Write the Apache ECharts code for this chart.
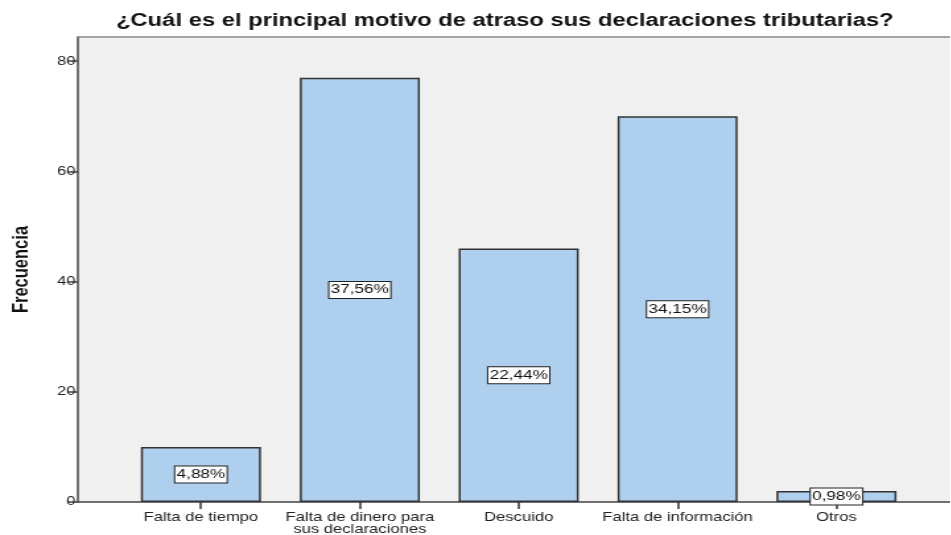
<!DOCTYPE html>
<html lang="es">
<head>
<meta charset="UTF-8">
<title>Motivo de atraso</title>
<script src="https://cdn.jsdelivr.net/npm/echarts@6/dist/echarts.min.js"></script>
<style>
  html, body { margin: 0; padding: 0; background: #fff; overflow: hidden; }
  /* el original está estirado a lo ancho: se dibuja estrecho y se estira */
  #chart { height: 535px; transform-origin: 0 0; }
</style>
</head>
<body>
<div id="chart"></div>
<script>
// datos
var categorias = ["Falta de tiempo", "Falta de dinero para\nsus declaraciones", "Descuido", "Falta de información", "Otros"];
var frecuencias = [10, 77, 46, 70, 2];
var porcentajes = ["4,88%", "37,56%", "22,44%", "34,15%", "0,98%"];
var ticksY = [0, 20, 40, 60, 80];

var s = 1.32; // estiramiento horizontal
var el = document.getElementById("chart");
el.style.width = (951 / s) + "px";
el.style.transform = "scaleX(" + s + ")";

var chart = echarts.init(el);
var yMax = 84.4;
var fuente = "Liberation Sans, Arial, sans-serif";

var option = {
  animation: false,
  title: {
    text: "¿Cuál es el principal motivo de atraso sus declaraciones tributarias?",
    left: 116 / s - 5,
    top: 7,
    textStyle: { fontFamily: fuente, fontSize: 18, fontWeight: "bold", color: "#111" }
  },
  grid: [
    // fondo del gráfico
    { left: 78 / s, right: 0, top: 37, bottom: 33, show: true, backgroundColor: "#f0f0f0",
      borderWidth: 0, outerBoundsMode: "none" },
    // barras
    { left: 121.5 / s, right: 34.5 / s, top: 37, bottom: 33, outerBoundsMode: "none" }
  ],
  xAxis: [
    { gridIndex: 0, type: "value", min: 0, max: 1,
      axisLine: { show: true, lineStyle: { color: "#444", width: 1.5 } },
      axisTick: { show: false }, axisLabel: { show: false }, splitLine: { show: false } },
    { gridIndex: 1, type: "category", data: categorias,
      axisLine: { show: false },
      axisTick: { show: true, alignWithLabel: true, length: 7, lineStyle: { color: "#333", width: 1.5 } },
      axisLabel: { interval: 0, fontFamily: fuente, fontSize: 12.6, color: "#222", lineHeight: 12, margin: 10 } },
    // línea superior del marco
    { gridIndex: 0, type: "value", position: "top", min: 0, max: 1,
      axisLine: { show: true, lineStyle: { color: "#888", width: 1.5 } },
      axisTick: { show: false }, axisLabel: { show: false }, splitLine: { show: false } }
  ],
  yAxis: [
    { gridIndex: 0, type: "value", min: 0, max: yMax, interval: 20,
      name: "Frecuencia", nameLocation: "middle", nameGap: 34, nameRotate: 90,
      nameTextStyle: { fontFamily: fuente, fontSize: 16.5, fontWeight: "bold", color: "#111" },
      axisLine: { show: true, lineStyle: { color: "#444", width: 1.5 } },
      axisTick: { show: true, length: 8, lineStyle: { color: "#444", width: 1.5 } },
      axisLabel: { fontFamily: fuente, fontSize: 12.5, color: "#222", margin: 2, showMaxLabel: false,
        formatter: function (v) { return ticksY.indexOf(v) >= 0 ? String(v) : ""; } },
      splitLine: { show: false } },
    { gridIndex: 1, type: "value", min: 0, max: yMax, show: false }
  ],
  series: [
    {
      type: "bar",
      xAxisIndex: 1,
      yAxisIndex: 1,
      data: frecuencias,
      barWidth: 120 / s,
      itemStyle: { color: "#aed0ee", borderColor: "#333", borderWidth: 1.5 },
      label: {
        show: true,
        position: "inside",
        formatter: function (p) { return porcentajes[p.dataIndex]; },
        fontFamily: fuente,
        fontSize: 13,
        color: "#111",
        backgroundColor: "#fff",
        borderColor: "#222",
        borderWidth: 1,
        padding: [2, 1, 1, 1]
      }
    }
  ]
};

chart.setOption(option);
</script>
</body>
</html>
